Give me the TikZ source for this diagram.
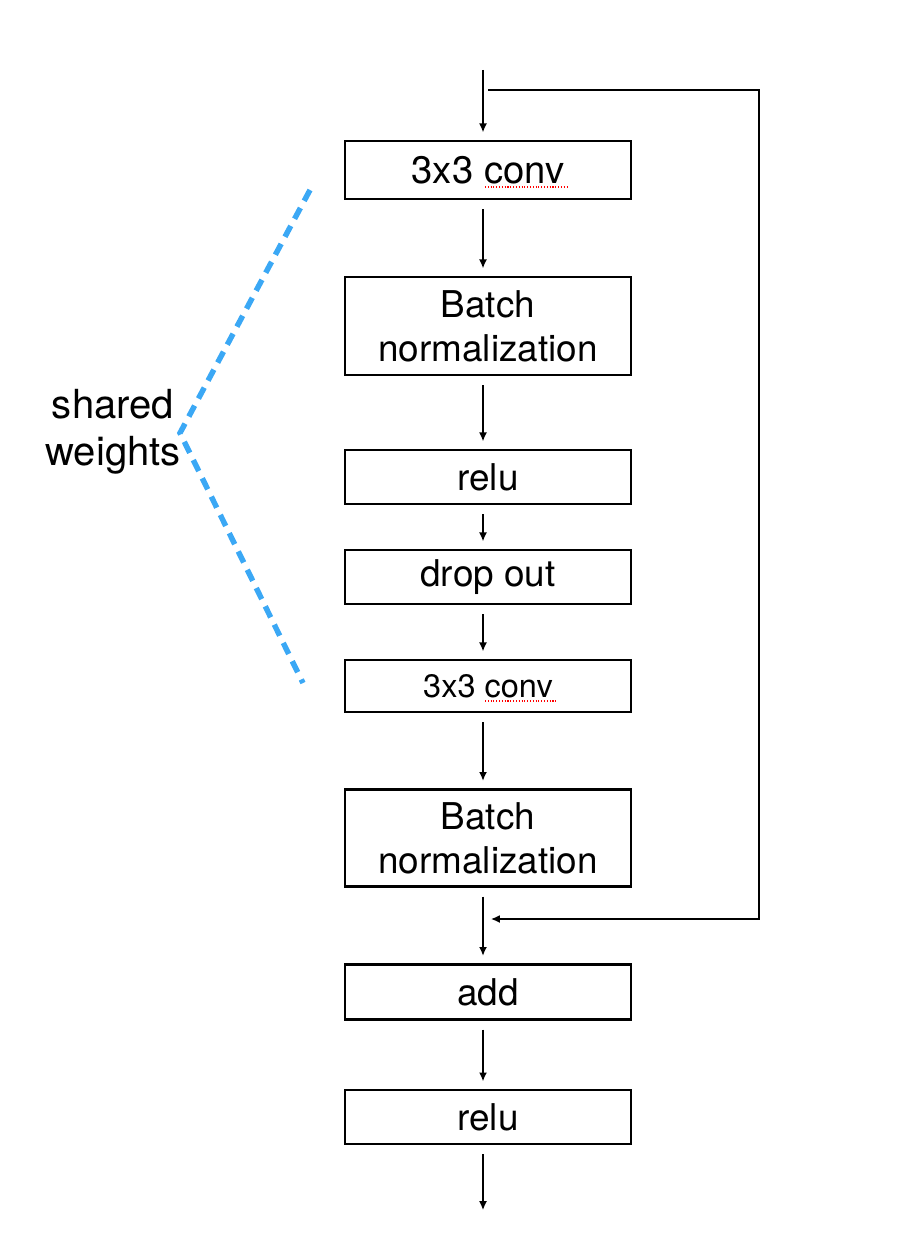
\documentclass[tikz,border=0pt]{standalone}
\usepackage{fontspec}
\setmainfont{TeX Gyre Heros}
\usetikzlibrary{arrows.meta}
\definecolor{sharedblue}{RGB}{59,168,245}

\begin{document}
\begin{tikzpicture}[x=0.02cm,y=-0.02cm,
	layer/.style={draw,line width=1.4pt,minimum width=5.72cm,align=center,inner sep=0pt,font=\fontsize{21}{25}\selectfont},
	flow/.style={-{Latex[length=5pt,width=4.5pt]},line width=0.8pt,shorten <=0.18cm,shorten >=0.15cm},
	skip/.style={-{Latex[length=5pt,width=4.5pt]},line width=0.8pt},
	shared/.style={draw=sharedblue,line width=3.1pt,dash pattern=on 7pt off 4.6pt},
	spell/.style={draw=red,line width=0.6pt,densely dotted}]
	\useasboundingbox (0,0) rectangle (912,1240);
	\node[layer,minimum height=1.16cm,font=\fontsize{21.8}{25}\selectfont] (conv1) at (488,170) {3x3 conv};
	\node[layer,minimum height=1.96cm] (bn1) at (488,326) {Batch\\normalization};
	\node[layer,minimum height=1.08cm] (relu1) at (488,477) {relu};
	\node[layer,minimum height=1.08cm] (drop) at (488,577) {drop out};
	\node[layer,minimum height=1.04cm,font=\fontsize{18.5}{22}\selectfont] (conv2) at (488,686) {3x3 conv};
	\node[layer,minimum height=1.94cm] (bn2) at (488,838) {Batch\\normalization};
	\node[layer,minimum height=1.1cm] (add) at (488,992) {add};
	\node[layer,minimum height=1.08cm] (relu2) at (488,1117) {relu};
	\node[align=center,font=\fontsize{22.8}{26.5}\selectfont] (sw) at (113,432) {shared\\weights};

	\coordinate (axis) at (483,0);
	\coordinate (in) at (483,70);
	\coordinate (out) at (483,1210);
	\draw[flow,shorten <=0pt] (in) -- (conv1.north -| axis);
	\foreach \a/\b in {conv1/bn1,bn1/relu1,relu1/drop,drop/conv2,conv2/bn2,bn2/add,add/relu2}
		\draw[flow] (\a.south -| axis) -- (\b.north -| axis);
	\draw[flow,shorten >=0pt] (relu2.south -| axis) -- (out);

	\coordinate (skipin) at (488,90);
	\coordinate (corner) at (759,919);
	\coordinate (skipout) at (491,919);
	\draw[skip] (skipin) -| (corner) -- (skipout);

	\coordinate (wtop) at (310,190);
	\coordinate (wtip) at (180,433);
	\coordinate (wbot) at (303,683);
	\draw[shared] (wtop) -- (wtip) -- (wbot);

	\draw[spell] (485,187) -- (567,187);
	\draw[spell] (485,701) -- (556,701);
\end{tikzpicture}
\end{document}
